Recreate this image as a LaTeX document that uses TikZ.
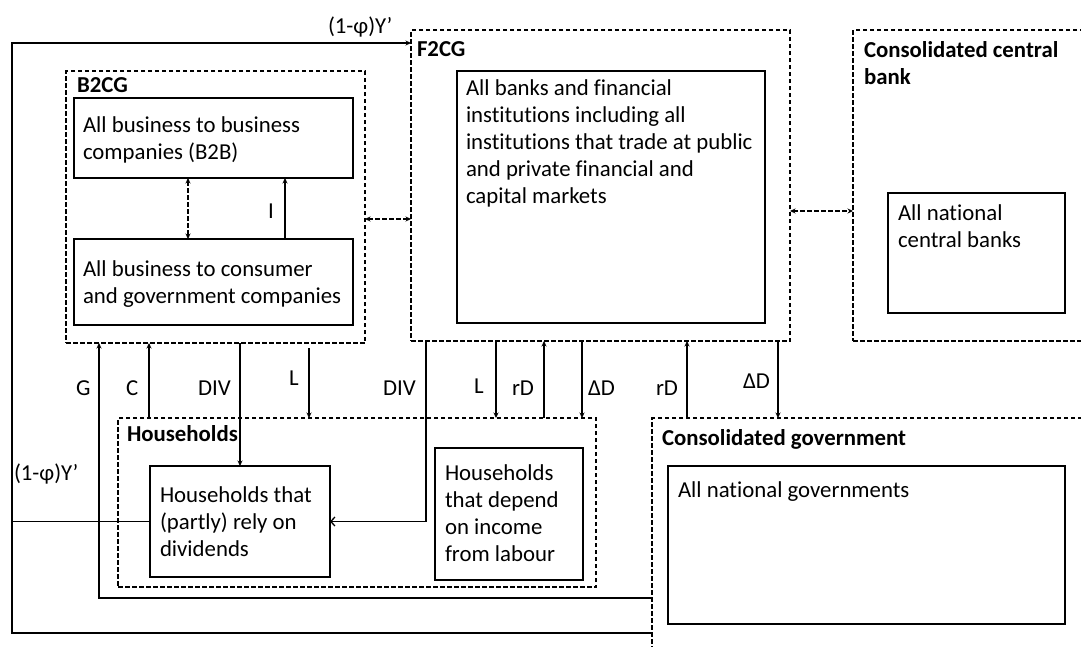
\documentclass[tikz,border=0pt]{standalone}
\usepackage{fontspec}
\setmainfont{Carlito}[Ligatures=CommonOff]
\usetikzlibrary{arrows.meta}
% rectangle given by its top-left and bottom-right corners
\newcommand\areabox[6]{%
  \node[#1, anchor=north west, minimum width={#5-#3}, minimum height={#6-#4}] (#2) at (#3,#4) {};}
\begin{document}
\begin{tikzpicture}[x=1pt, y=-1pt,
  every node/.style={inner sep=0pt, outer sep=0pt},
  font=\fontsize{22.8}{27}\selectfont,
  solidbox/.style={draw, line width=1.4pt},
  zone/.style={draw, line width=1.3pt, dash pattern=on 4.5pt off 2.5pt},
  txt/.style={anchor=base west, align=left},
  head/.style={txt, font=\fontsize{22.8}{27}\selectfont\bfseries},
  flow/.style={line width=1.3pt, -{Stealth[length=5.5pt,width=5pt]}},
  link/.style={line width=1.3pt, dash pattern=on 4.5pt off 2.5pt,
    {Stealth[length=5.5pt,width=5pt]}-{Stealth[length=5.5pt,width=5pt]}},
  payout/.style={line width=1.3pt, -{Straight Barb[length=4pt,width=9pt]}}]
\useasboundingbox (0,0) rectangle (1081,646);
\clip (0,0) rectangle (1081,646);

% sectors (dashed) and their members (solid)
\areabox{zone}{b2cg}{66}{71}{365}{343}
\areabox{solidbox}{b2b}{74}{98}{353}{178}
\areabox{solidbox}{b2c}{74}{239}{353}{325}
\areabox{zone}{f2cg}{411}{30}{790}{341}
\areabox{solidbox}{fin}{457}{71}{765}{323}
\areabox{zone}{cb}{853}{30}{1100}{341}
\areabox{solidbox}{ncb}{888}{193}{1065}{313}
\areabox{zone}{hh}{118}{418}{596}{587}
\areabox{solidbox}{divhh}{150}{466}{330}{577}
\areabox{solidbox}{labhh}{435}{448}{583}{580}
\areabox{zone}{gov}{652}{418}{1100}{680}
\areabox{solidbox}{natgov}{668}{466}{1065}{624}

% texts (multi-line texts sit on the baseline of their last line)
\node[head] (t1) at (77,92) {B2CG};
\node[txt] (t2) at (83,159) {All business to business\\companies (B2B)};
\node[txt] (t3) at (83,303) {All business to consumer\\and government companies};
\node[head] (t4) at (417,56) {F2CG};
\node[txt] (t5) at (466,203) {All banks and financial\\institutions including all\\institutions that trade at public\\and private financial and\\capital markets};
\node[head] (t6) at (864,84) {Consolidated central\\bank};
\node[txt] (t7) at (898,247) {All national\\central banks};
\node[head] (t8) at (127,441) {Households};
\node[txt] (t9) at (160,556) {Households that\\(partly) rely on\\dividends};
\node[txt] (t10) at (445,561) {Households\\that depend\\on income\\from labour};
\node[head] (t11) at (662,445) {Consolidated government};
\node[txt] (t12) at (678,497) {All national governments};

% columns and rows used by the connectors
\coordinate (xI) at (285,0);
\coordinate (xBB) at (188,0);
\coordinate (xG) at (99,0);
\coordinate (xC) at (149,0);
\coordinate (xDa) at (240,0);
\coordinate (xDb) at (426,0);
\coordinate (xLb) at (496,0);
\coordinate (xRa) at (544,0);
\coordinate (xQa) at (582,0);
\coordinate (xRb) at (687,0);
\coordinate (xQb) at (778,0);
\coordinate (yBF) at (0,219);
\coordinate (yFC) at (0,211);
\coordinate (yG) at (0,598);
\coordinate (loopB) at (12,633);
\coordinate (loopT) at (12,43);
\coordinate (lTop) at (309,348);

% links inside and between sectors
\draw[link] (b2b.south -| xBB) -- (b2c.north -| xBB);
\draw[flow] (b2c.north -| xI) -- (b2b.south -| xI);
\node[txt] (lI) at (268,218) {I};
\draw[link] (b2cg.east |- yBF) -- (f2cg.west |- yBF);
\draw[link] (f2cg.east |- yFC) -- (cb.west |- yFC);

% money flows
\draw[flow] (gov.west |- loopB) -- (loopB) -- (loopT) -- (f2cg.west |- loopT);
\node[txt] (lY1) at (328,33) {(1-φ)Y’};
\draw[line width=1.3pt] (divhh.west) -- (divhh.west -| loopB);
\node[txt] (lY2) at (14,480) {(1-φ)Y’};
\draw[flow] (gov.west |- yG) -- (yG -| xG) -- (b2cg.south -| xG);
\node[txt] (lG) at (76,395) {G};
\draw[flow] (hh.north -| xC) -- (b2cg.south -| xC);
\node[txt] (lC) at (126,395) {C};
\draw[flow] (b2cg.south -| xDa) -- (divhh.north -| xDa);
\node[txt] (lD1) at (198,395) {DIV};
\draw[flow] (lTop) -- (hh.north -| lTop);
\node[txt] (lL1) at (289,385) {L};
\draw[payout] (f2cg.south -| xDb) |- (divhh.east);
\node[txt] (lD2) at (383,395) {DIV};
\draw[flow] (f2cg.south -| xLb) -- (hh.north -| xLb);
\node[txt] (lL2) at (474,393) {L};
\draw[flow] (hh.north -| xRa) -- (f2cg.south -| xRa);
\node[txt] (lR1) at (512,395) {rD};
\draw[flow] (f2cg.south -| xQa) -- (hh.north -| xQa);
\node[txt] (lQ1) at (588,395) {ΔD};
\draw[flow] (gov.north -| xRb) -- (f2cg.south -| xRb);
\node[txt] (lR2) at (656,395) {rD};
\draw[flow] (cb.south -| xQb) -- (gov.north -| xQb);
\node[txt] (lQ2) at (743,388) {ΔD};
\end{tikzpicture}
\end{document}
